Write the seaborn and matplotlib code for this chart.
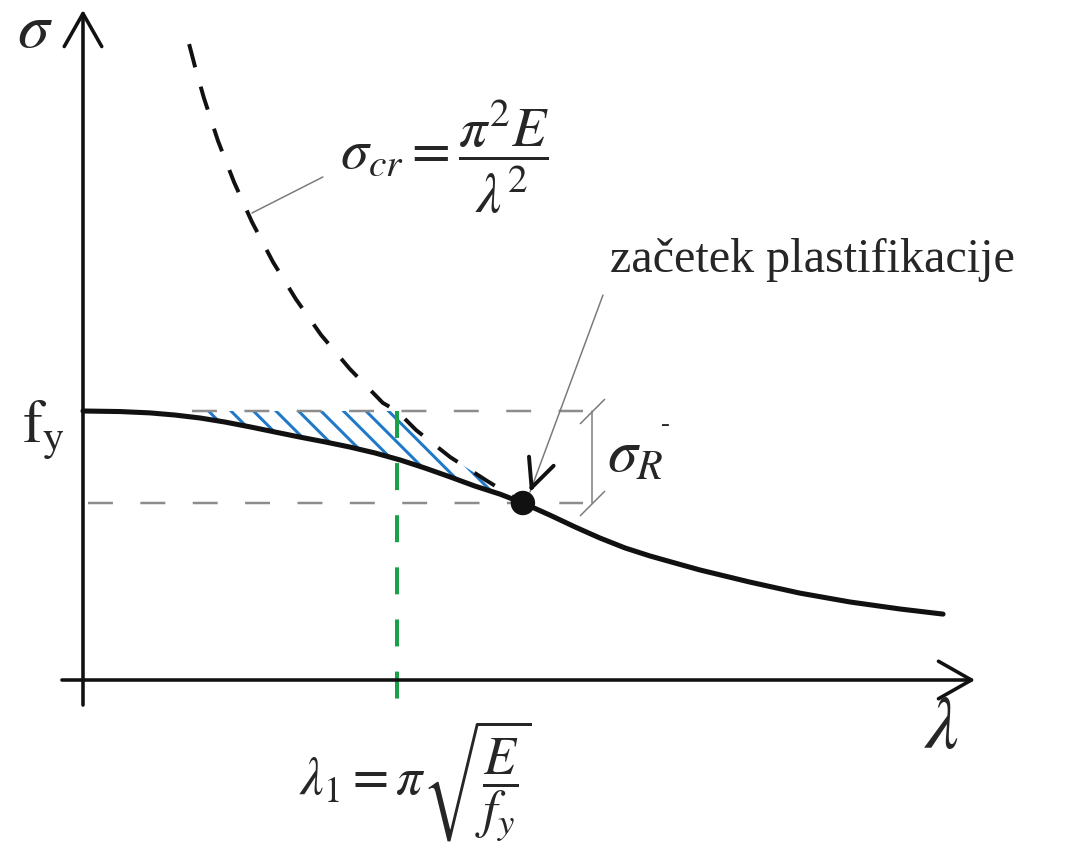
import numpy as np
import pandas as pd
import matplotlib
matplotlib.use("Agg")
import matplotlib.pyplot as plt
import seaborn as sns

# Slenderness in units of lambda_1, stress in units of f_y
euler_lam = [0.338, 0.357, 0.385, 0.430, 0.481, 0.538, 0.605, 0.678, 0.758,
             0.850, 0.955, 1.000, 1.061, 1.169, 1.287, 1.360, 1.376]
euler_sig = [2.364, 2.279, 2.164, 2.004, 1.851, 1.703, 1.554, 1.416, 1.283,
             1.156, 1.030, 1.000, 0.929, 0.829, 0.740, 0.688, 0.677]

real_lam = [0.0, 0.118, 0.213, 0.293, 0.373, 0.452, 0.532, 0.611, 0.691,
            0.771, 0.850, 0.930, 1.010, 1.089, 1.169, 1.248, 1.328, 1.401,
            1.487, 1.567, 1.646, 1.726, 1.806, 1.885, 1.965, 2.124, 2.283,
            2.443, 2.602, 2.739]
real_sig = [1.0, 0.998, 0.993, 0.985, 0.974, 0.959, 0.941, 0.922, 0.903,
            0.885, 0.866, 0.844, 0.818, 0.788, 0.755, 0.721, 0.691, 0.658,
            0.613, 0.569, 0.528, 0.491, 0.461, 0.435, 0.409, 0.364, 0.323,
            0.290, 0.264, 0.245]

f_y = 1.0          # yield stress
lam_1 = 1.0        # Euler slenderness at sigma_cr = f_y
lam_p = 1.401      # onset of yielding
sigma_p = 0.658

euler = pd.DataFrame({"lam": euler_lam, "sigma": euler_sig})
real = pd.DataFrame({"lam": real_lam, "sigma": real_sig})

DPI = 135
sns.set_theme(style="white")
plt.rcParams["font.family"] = ["Liberation Serif", "DejaVu Sans"]
plt.rcParams["mathtext.fontset"] = "stix"
plt.rcParams["hatch.linewidth"] = 1.6

fig = plt.figure(figsize=(1072 / DPI, 859 / DPI), dpi=DPI)
ax = fig.add_axes([0, 0, 1, 1])
ax.set_axis_off()

INK = "#111111"
GREY = "#8c8c8c"
LEAD = "#7a7a7a"

# hatched band between f_y / Euler curve and the real buckling curve
grid = np.linspace(0.35, 1.376, 400)
upper = np.minimum(f_y, np.interp(grid, euler_lam, euler_sig))
lower = np.interp(grid, real_lam, real_sig)
ax.fill_between(grid, lower, upper, where=upper > lower, facecolor="none",
                edgecolor="#1f78c8", linewidth=0, hatch="\\\\", zorder=1)

# reference levels f_y and sigma_p
ax.plot([0.347, 1.592], [f_y, f_y], color=GREY, lw=1.33,
        linestyle=(0, (10, 11)), zorder=2)
ax.plot([0.016, 1.592], [sigma_p, sigma_p], color=GREY, lw=1.33,
        linestyle=(0, (10, 11)), zorder=2)

# lambda_1 marker
ax.plot([lam_1, lam_1], [f_y, -0.074], color="#19a048", lw=2.13,
        linestyle=(0, (6.75, 6.3)), zorder=2)

# curves
sns.lineplot(data=euler, x="lam", y="sigma", ax=ax, color=INK, lw=2.1,
             linestyle=(0, (6.1, 5.1)), sort=False, zorder=3)
sns.lineplot(data=real, x="lam", y="sigma", ax=ax, color=INK, lw=2.7,
             sort=False, zorder=4)
sns.scatterplot(x=[lam_p], y=[sigma_p], ax=ax, s=170, color=INK,
                edgecolor="none", zorder=5)

# coordinate axes with open arrow heads
arrow_kw = dict(arrowstyle="->,head_length=17.6,head_width=10", lw=1.9,
                color=INK, mutation_scale=1, shrinkA=0, shrinkB=0)
ax.annotate("", xy=(2.841, 0), xytext=(-0.067, 0), arrowprops=arrow_kw)
ax.annotate("", xy=(0, 2.491), xytext=(0, -0.093), arrowprops=arrow_kw)

# sigma_R dimension
ax.plot([1.621, 1.621], [f_y, sigma_p], color=LEAD, lw=0.8, zorder=2)
ax.plot([1.621, 1.621], [f_y, sigma_p], linestyle="none",
        marker=[(-1, -1), (1, 1)], ms=13.3, mew=0.8, color=LEAD, zorder=2)
ax.text(1.669, 0.825, r"$\sigma_R$", fontsize=32, ha="left", va="center")
ax.text(1.854, 0.948, "-", fontsize=14, ha="center", va="center")

# axis labels
ax.text(-0.153, 2.409, r"$\sigma$", fontsize=34, ha="center", va="center")
ax.text(2.736, -0.186, r"$\lambda$", fontsize=40, ha="center", va="center")
ax.text(-0.127, 0.929, r"$\mathrm{f}_\mathrm{y}$", fontsize=32,
        ha="center", va="center")

# Euler formula with leader
ax.plot([0.538, 0.764], [1.736, 1.870], color=LEAD, lw=0.8, zorder=2)
ax.text(1.153, 1.945, r"$\sigma_{cr} = \dfrac{\pi^2 E}{\lambda^2}$",
        fontsize=30, ha="center", va="center")

# lambda_1 formula
ax.text(1.057, -0.375, r"$\lambda_1 = \pi\sqrt{\dfrac{E}{f_y}}$",
        fontsize=28, ha="center", va="center")

# onset of yielding
ax.text(1.678, 1.517, "začetek plastifikacije", fontsize=25.7,
        ha="left", va="baseline")
ax.annotate("", xy=(1.4236, 0.6989), xytext=(1.656, 1.431),
            arrowprops=dict(arrowstyle="-", lw=0.8, color=LEAD,
                            shrinkA=0, shrinkB=0))
ax.annotate("", xy=(1.4236, 0.6989), xytext=(1.4299, 0.7189),
            arrowprops=dict(arrowstyle="->,head_length=15,head_width=7",
                            lw=2.1, color=INK, mutation_scale=1,
                            shrinkA=0, shrinkB=0))

ax.set_xlim(-0.2643, 3.1497)
ax.set_ylim(-0.6654, 2.5279)

fig.savefig("out.png", dpi=DPI, facecolor="white")
